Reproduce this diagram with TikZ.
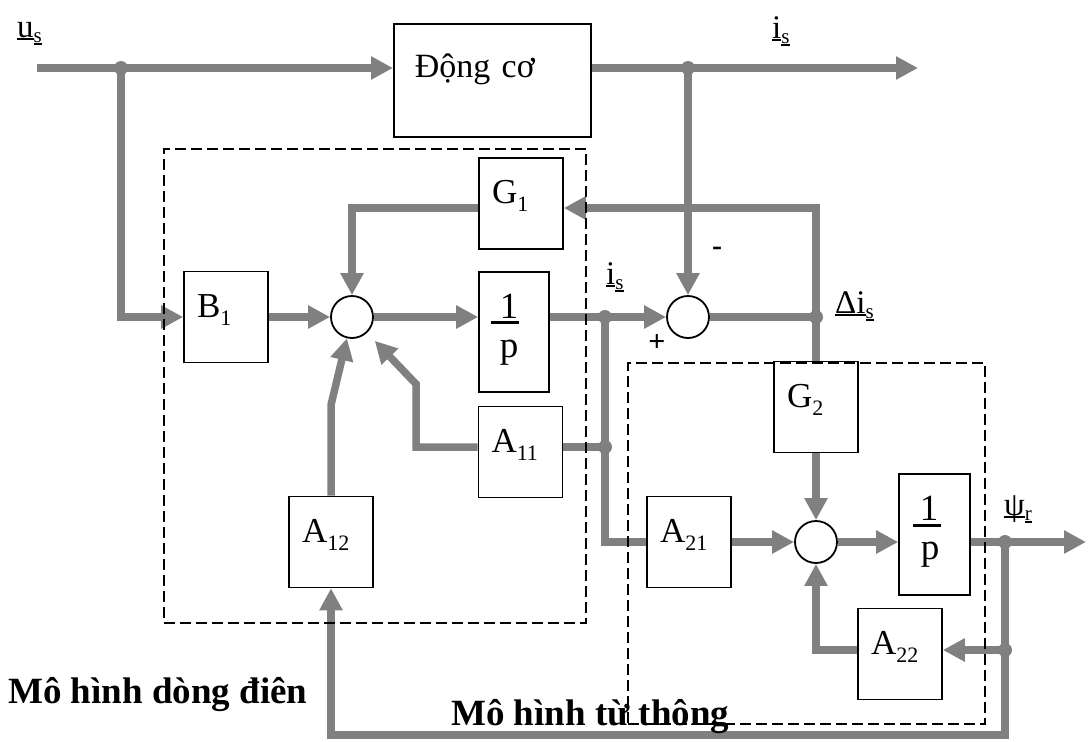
\documentclass[tikz,border=0pt]{standalone}
\usepackage{fontspec}
\setmainfont{Liberation Serif}
\usetikzlibrary{arrows.meta,calc}
\definecolor{sgray}{RGB}{128,128,128}
\newcommand{\mysub}[1]{\raisebox{-8pt}{\fontsize{22}{24}\selectfont #1}}
\newcommand{\lsub}[1]{\raisebox{-5pt}{\fontsize{21}{23}\selectfont #1}}
\newcommand{\myul}[1]{\leavevmode\setbox0=\hbox{#1}\rlap{\copy0}\rule[-3pt]{\wd0}{2.4pt}}
\begin{document}
\begin{tikzpicture}[x=1pt,y=-1pt,
 sig/.style={draw=sgray, line width=7.5pt, line join=miter},
 arr/.style={sig, -{Triangle[length=22pt,width=22pt]}},
 blk/.style={draw, line width=1.6pt, fill=white, inner sep=0pt, align=left, font=\fontsize{35}{38}\selectfont},
 sq/.style={blk, text width=84pt, text height=45.5pt, text depth=45.5pt},
 sumc/.style={circle, draw, line width=1.8pt, fill=white, minimum size=42pt, inner sep=0pt},
 dot/.style={circle, fill=sgray, minimum size=14pt, inner sep=0pt},
 frame/.style={draw, line width=1.7pt, dash pattern=on 11pt off 5pt, inner sep=0pt},
 lbl/.style={inner sep=0pt, font=\fontsize{33}{35}\selectfont},
 big/.style={inner sep=0pt, font=\fontsize{37}{40}\selectfont},
 bar/.style={fill=black, minimum width=28pt, minimum height=3pt, inner sep=0pt, anchor=north},
 capt/.style={inner sep=0pt, anchor=base west, font=\fontsize{37}{40}\selectfont\bfseries}]
\useasboundingbox (0,0) rectangle (1088,742);

% blocks
\node[blk, text width=197pt, text height=54pt, text depth=59pt, anchor=north west,
      font=\fontsize{34}{36}\selectfont] (DC) at (393,23) {\hspace*{21pt}Động cơ};
\node[sq] (B1) at (226,317) {\hspace*{13pt}B\mysub{1}};
\node[sq] (G1) at (521,203.5) {\hspace*{13pt}G\mysub{1}};
\node[sq] (A11) at (520.5,452) {\hspace*{13pt}A\mysub{11}};
\node[sq] (A12) at (331,542) {\hspace*{13pt}A\mysub{12}};
\node[sq] (G2) at (816,407) {\hspace*{13pt}G\mysub{2}};
\node[sq] (A21) at (689,542) {\hspace*{13pt}A\mysub{21}};
\node[sq] (A22) at (900,654) {\hspace*{13pt}A\mysub{22}};

\node[blk, minimum width=70pt, minimum height=120pt] (P1) at (514,332) {};
\node[big, anchor=base] (P1a) at (509,318) {1};
\node[bar] (P1b) at (505,321) {};
\node[big, anchor=base] (P1c) at (509,357) {p};

\node[blk, minimum width=71pt, minimum height=121pt] (P2) at (934.5,534.5) {};
\node[big, anchor=base] (P2a) at (929,520.5) {1};
\node[bar] (P2b) at (926.5,523.5) {};
\node[big, anchor=base] (P2c) at (930,559.5) {p};

% summing points
\node[sumc] (S1) at (352,317) {};
\node[sumc] (S2) at (688,317) {};
\node[sumc] (S3) at (816,542) {};

% junctions
\node[dot] (J1) at (121,68) {};
\node[dot] (J2) at (688,68) {};
\node[dot] (J3) at (605,317) {};
\node[dot] (J4) at (816,317) {};
\node[dot] (J5) at (605,447) {};
\node[dot] (J6) at (1005,542) {};
\node[dot] (J7) at (1005,650) {};

\coordinate (usin) at (37,68);
\coordinate (isout) at (918,68);
\coordinate (psiout) at (1086,542);
\coordinate (k1) at (416,384);
\coordinate (k2) at (331,405);
\coordinate (k3) at (1005,735);
\coordinate (k4) at (331,735);

% connectors
\draw[arr] (usin) -- (usin -| DC.west);
\draw[arr] (J1.center) |- (B1.west);
\draw[arr] (B1.east) -- (S1.west);
\draw[arr] (S1.east) -- (S1.east -| P1.west);
\draw[arr] ([yshift=-4.5pt]G1.west) -| (S1.north);
\draw[arr] (DC.east |- usin) -- (isout);
\draw[arr] (J2.center) -- (S2.north);
\draw[arr] (P1.east |- S2) -- (S2.west);
\draw[sig] (S2.east) -- (J4.center);
\draw[arr] (J4.center) |- ([yshift=-4.5pt]G1.east);
\draw[sig] (J4.center) -- (G2.north);
\draw[arr] (G2.south) -- (S3.north);
\draw[sig] (J3.center) |- (A21.west);
\draw[sig] (A11.east |- J5) -- (J5.center);
\draw[arr, shorten >=11pt] (A11.west |- J5) -| (k1) -- (S1);
\draw[arr] (A12.north) -- (k2) -- (S1);
\draw[arr] (A21.east) -- (S3.west);
\draw[arr] (S3.east) -- (S3.east -| P2.west);
\draw[arr] (P2.east |- S3) -- (psiout);
\draw[arr] (J6.center) -- (k3) -- (k4) -- (A12.south);
\draw[arr] (J7.center) -- (J7 -| A22.east);
\draw[arr] (A22.west |- J7) -| (S3.south);

% labels
\node[lbl, anchor=base west] (us) at (17,37) {\myul{u}\lsub{\myul{s}}};
\node[lbl, anchor=base west] (is1) at (772,38) {\myul{i}\lsub{\myul{s}}};
\node[lbl, anchor=base west] (is2) at (606,284) {\myul{i}\lsub{\myul{s}}};
\node[lbl, anchor=base west] (di) at (835,313) {\myul{Δi}\lsub{\myul{s}}};
\node[lbl, anchor=base west] (psi) at (1004,515) {\myul{ψ}\lsub{\myul{r}}};
\node[inner sep=0pt, font=\fontsize{30}{30}\selectfont\bfseries] (minus) at (717,251) {-};
\node[inner sep=0pt, font=\fontsize{30}{30}\selectfont\bfseries] (plus) at (657,343) {+};

\node[capt] (t1) at (8,703) {Mô hình dòng điên};
\node[capt] (t2) at (451,725) {Mô hình từ thông};

% frames
\node[frame, minimum width=422pt, minimum height=474pt, anchor=north west] (F1) at (163,148) {};
\node[frame, minimum width=357pt, minimum height=361pt, anchor=north west] (F2) at (627,362) {};
\end{tikzpicture}
\end{document}
